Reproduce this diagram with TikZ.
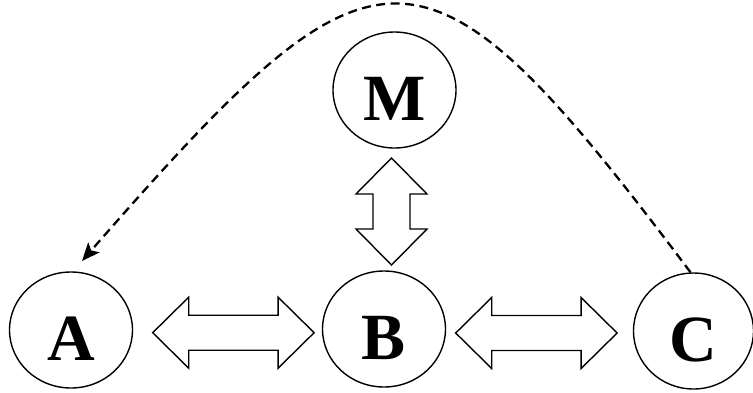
\documentclass[tikz,border=0pt]{standalone}
\usepackage{fontspec}
\setmainfont{Liberation Serif}
\usetikzlibrary{shapes.geometric,arrows.meta,calc}
\tikzset{
  circ/.style={draw, line width=1.4pt, ellipse, inner sep=0pt,
    minimum width=123pt, minimum height=116pt,
    font=\fontsize{66}{70}\selectfont\bfseries, text height=60pt, text depth=0pt},
  bigarrow/.style={draw, line width=1.4pt, line join=miter, fill=white},
  dasharrow/.style={line width=2.3pt, dash pattern=on 9pt off 5.5pt,
    -{Stealth[length=18pt,width=15pt,inset=4pt]}},
  pics/dblarrow/.style={code={
    \draw[bigarrow] (-#1,0) -- (-#1+36,35.5) -- (-#1+36,17.5) -- (#1-36,17.5)
      -- (#1-36,35.5) -- (#1,0) -- (#1-36,-35.5) -- (#1-36,-17.5)
      -- (-#1+36,-17.5) -- (-#1+36,-35.5) -- cycle;
  }},
  pics/vdblarrow/.style={code={
    \draw[bigarrow] (0,-#1) -- (35.5,-#1+36) -- (18.5,-#1+36) -- (18.5,#1-36)
      -- (35.5,#1-36) -- (0,#1) -- (-35.5,#1-36) -- (-18.5,#1-36)
      -- (-18.5,-#1+36) -- (-35.5,-#1+36) -- cycle;
  }}
}
\begin{document}
\begin{tikzpicture}[x=1pt,y=-1pt]
\useasboundingbox (0,0) rectangle (753,392);
\node[circ] (A) at (71,330) {A};
\node[circ] (B) at (384,329) {B};
\node[circ] (M) at (394.5,90) {M};
\node[circ, minimum width=120pt] (C) at (693.5,331) {C};
\pic at (233.4,332.7) {dblarrow=80.7};
\pic at (536.4,333) {dblarrow=80.7};
\pic at (391.5,211.5) {vdblarrow=53.5};
\coordinate (tipA) at (82,261);
\draw[dasharrow] ($(C.north)+(-3,0)$) .. controls (422,-85) and (380,-80) .. (tipA);
\end{tikzpicture}
\end{document}
